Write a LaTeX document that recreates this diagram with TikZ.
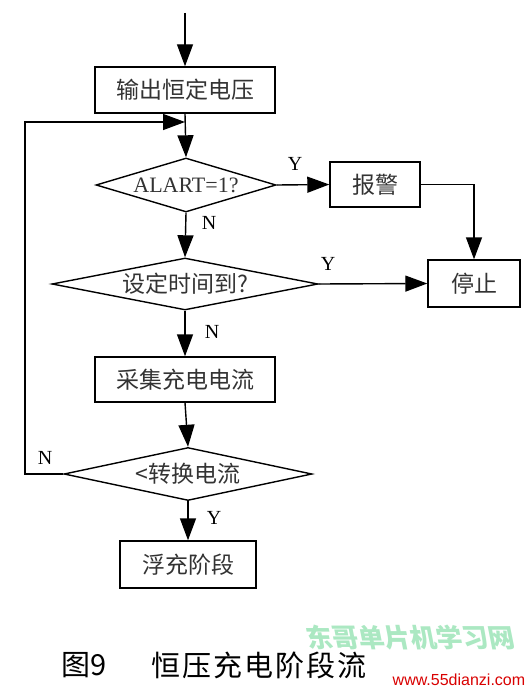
\documentclass[tikz,border=0pt]{standalone}
\usepackage{fontspec}
\setmainfont{Liberation Serif}
\newfontfamily\cjk{Noto Sans CJK SC}
\usetikzlibrary{shapes.geometric,arrows.meta}
\begin{document}
\begin{tikzpicture}[x=1pt,y=-1pt,
  line width=1.4pt,
  arr/.style={-{Triangle[length=22pt,width=16pt]}},
  boxn/.style={draw,rectangle,minimum height=46pt,inner sep=0pt,font=\cjk\fontsize{23}{25}\selectfont,text=black!80},
  dia/.style={draw,diamond,inner sep=0pt,font=\fontsize{22}{24}\selectfont,text=black!80},
  lbl/.style={font=\fontsize{20}{22}\selectfont,inner sep=0pt}]
\useasboundingbox (0,0) rectangle (530,693);
\coordinate (start) at (185,13);
\node[boxn,minimum width=180pt] (b1) at (185,90) {输出恒定电压};
\node[dia,minimum width=180pt,minimum height=54pt,aspect=3.33] (d1) at (186,185) {ALART=1?};
\node[boxn,minimum width=90pt,minimum height=45pt] (alarm) at (375,184.5) {报警};
\node[boxn,minimum width=92pt,minimum height=47pt] (stop) at (474,283.5) {停止};
\node[dia,minimum width=266pt,minimum height=52pt,aspect=5.1,font=\cjk\fontsize{23}{25}\selectfont] (d2) at (185,284) {设定时间到?};
\node[boxn,minimum width=180pt,minimum height=45pt] (b3) at (185,379.5) {采集充电电流};
\node[dia,minimum width=248pt,minimum height=53pt,aspect=4.7,font=\cjk\fontsize{23}{25}\selectfont] (d3) at (188,474) {<转换电流};
\node[boxn,minimum width=136pt,minimum height=47pt] (b4) at (188,564.5) {浮充阶段};
\coordinate (merge) at (185,122);
\coordinate (loopl) at (25,122);
% connectors
\draw[arr] (start) -- (b1.north);
\draw[arr] (b1.south) -- (d1.north);
\draw[arr] (d1.east) -- (alarm.west);
\draw[arr] (alarm.east) -| (stop.north);
\draw[arr] (d1.south) -- (d2.north);
\draw[arr] (d2.east) -- (stop.west);
\draw[arr] (d2.south) -- (b3.north);
\draw[arr] (b3.south) -- (d3.north);
\draw[arr] (d3.south) -- (b4.north);
\draw[arr] (d3.west) -| (loopl) -- (merge);
% labels
\node[lbl] (ly1) at (295,164) {Y};
\node[lbl] (ly2) at (328,264) {Y};
\node[lbl] (ln1) at (209,223) {N};
\node[lbl] (ln2) at (212,332) {N};
\node[lbl] (ln3) at (45,458) {N};
\node[lbl] (ly3) at (214,518) {Y};
% caption
\node[anchor=west,inner sep=0pt,font=\cjk\fontsize{29}{31}\selectfont] (cap1) at (61,665) {图9};
\node[anchor=west,inner sep=0pt,font=\cjk\fontsize{29}{31}\selectfont] (cap2) at (151,665) {恒\hspace{2pt}压\hspace{2pt}充\hspace{2pt}电\hspace{2pt}阶\hspace{2pt}段\hspace{2pt}流};
% watermark
\node[anchor=west,inner sep=0pt,font=\cjk\bfseries\fontsize{26}{28}\selectfont,text=green!45!teal!60,opacity=0.55,xslant=-0.2] (wm1) at (306,638) {东哥单片机学习网};
\fill[white] (385,666) rectangle (530,693);
\node[anchor=west,inner sep=0pt,font=\fontspec{Liberation Sans}\fontsize{16}{18}\selectfont,text=red!85!black] (wm2) at (392,680) {www.55dianzi.com};
\end{tikzpicture}
\end{document}
